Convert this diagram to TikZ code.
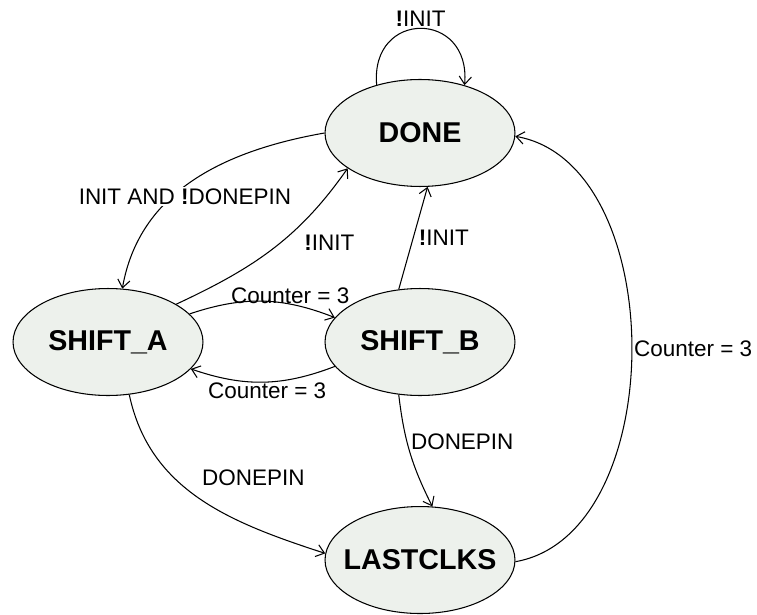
\documentclass[tikz,border=0pt]{standalone}
\usepackage{fontspec}
\setmainfont{Liberation Sans}
\usetikzlibrary{arrows.meta,positioning,shapes.geometric}
\definecolor{statefill}{RGB}{237,241,236}

\begin{document}
\begin{tikzpicture}[->, >={Straight Barb[length=4.5pt,width=7pt]}, x=0.02cm, y=0.02cm, line width=0.6pt, state/.style = {draw, ellipse, fill=statefill, minimum width=3.8cm, minimum height=2.14cm, inner sep=0pt, font=\bfseries\fontsize{16.3}{18}\selectfont}, lbl/.style = {font=\fontsize{12.8}{14}\selectfont, inner sep=1pt}]
  \useasboundingbox (0,0) rectangle (757,615);

  % States
  \node[state] (done) at (420,482) {DONE};
  \node[state] (shift_b) [below=2.02cm of done] {SHIFT\_B};
  \node[state] (shift_a) [left=2.42cm of shift_b] {SHIFT\_A};
  \node[state] (lastclks) [below=2.2cm of shift_b] {\makebox[0pt]{LASTCLKS}};

  % Transitions
  \path
        (done.132) edge[out=95, in=85, looseness=2.2] node[lbl, above] {\textbf{!}INIT} (done.47)
        (done.180) edge[out=190, in=80] node[lbl, fill=white, pos=0.6, xshift=7pt] {INIT AND \textbf{!}DONEPIN} (shift_a.75)
        (shift_a.29) edge[out=25, in=235] node[lbl, pos=0.62, anchor=north west, xshift=6pt] {\textbf{!}INIT} (done.206)
        (shift_a.19) edge[bend left=20] node[lbl, above, pos=0.7, inner sep=0pt] {Counter = 3} (shift_b.164)
        (shift_b.196) edge[bend left=20] node[lbl, below, pos=0.47, inner sep=0pt] {Counter = 3} (shift_a.342)
        (shift_b.112) edge node[lbl, right, inner sep=3pt] {\textbf{!}INIT} (done.278)
        (shift_b.248) edge[bend right=10] node[lbl, right, pos=0.4, inner sep=2pt] {DONEPIN} (lastclks.77)
        (shift_a.292) edge[out=-78, in=162] node[lbl, anchor=south west, pos=0.5, yshift=6pt] {DONEPIN} (lastclks.176)
        (lastclks.-1) edge[out=10, in=-10, looseness=0.95] node[lbl, right] {Counter = 3} (done.-2);
\end{tikzpicture}
\end{document}
